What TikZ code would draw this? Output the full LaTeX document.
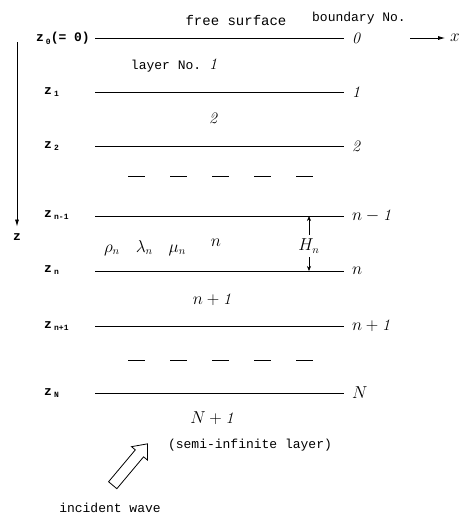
\documentclass[tikz,border=0pt]{standalone}
\usepackage{fontspec}
\setmonofont{Liberation Mono}
\usetikzlibrary{positioning,arrows.meta,shapes.arrows}

% small lowered index for the depth labels
\newcommand{\zsub}[1]{\,\raisebox{-0.4ex}{\fontsize{8}{9}\selectfont #1}}

\begin{document}
\begin{tikzpicture}[
	x=1pt, y=-1pt,
	bound/.style={
		line width=1pt
	},
	zlab/.style={
		font=\ttfamily\bfseries\fontsize{13}{15}\selectfont,
		anchor=west,
		inner sep=0pt
	},
	bnum/.style={
		font=\fontsize{16}{18}\selectfont,
		anchor=west,
		inner sep=0pt,
		outer xsep=8pt
	},
	lnum/.style={
		font=\fontsize{16}{18}\selectfont,
		inner sep=0pt
	},
	note/.style={
		font=\ttfamily\fontsize{13}{15}\selectfont,
		inner sep=0pt
	},
	axis/.style={
		-{Latex[length=7pt,width=4pt]},
		line width=0.8pt
	},
	harrow/.style={
		-{Stealth[length=5pt,width=4pt]},
		line width=0.6pt
	},
	hollow/.style={
		draw,
		single arrow,
		line width=0.8pt,
		minimum height=54pt,
		inner sep=5pt,
		single arrow head extend=5pt,
		single arrow tip angle=80
	}
	]
	
	\useasboundingbox (0,0) rectangle (465,515);
	
	% heading
	\node[note, font=\ttfamily\fontsize{14}{16}\selectfont] (free) at (236,20) {free surface};
	\node[note] (bno) at (359,18) {boundary No.};
	
	% boundaries
	\coordinate (s0) at (95,38);
	\node[bnum] (b0) at (344,38) {$\mathit{0}$};
	\node[zlab, anchor=east] (z0) at (90,38) {z\zsub{0}(= 0)};
	
	\coordinate (s1) at (95,92);
	\node[bnum] (b1) at (344,92) {$\mathit{1}$};
	\node[zlab] (z1) at (44,92) {z\zsub{1}};
	
	\coordinate (s2) at (95,146);
	\node[bnum] (b2) at (344,146) {$\mathit{2}$};
	\node[zlab] (z2) at (44,146) {z\zsub{2}};
	
	\coordinate (sn1) at (95,216);
	\node[bnum] (bn1) at (344,216) {$n-\mathit{1}$};
	\node[zlab] (zn1) at (44,215) {z\zsub{n-1}};
	
	\coordinate (sn) at (95,271);
	\node[bnum] (bn) at (344,271) {$n$};
	\node[zlab] (zn) at (44,270) {z\zsub{n}};
	
	\coordinate (snp) at (95,326);
	\node[bnum] (bnp) at (344,326) {$n+\mathit{1}$};
	\node[zlab] (znp) at (44,326) {z\zsub{n+1}};
	
	\coordinate (sN) at (95,393);
	\node[bnum] (bN) at (344,393) {$N$};
	\node[zlab] (zN) at (44,393) {z\zsub{N}};
	
	\draw[bound] (s0) -- (b0);
	\draw[bound] (s1) -- (b1);
	\draw[bound] (s2) -- (b2);
	\draw[bound] (sn1) -- (bn1);
	\draw[bound] (sn) -- (bn);
	\draw[bound] (snp) -- (bnp);
	\draw[bound] (sN) -- (bN);
	
	% omitted layers
	\draw[bound, dash pattern=on 17pt off 25pt] (128,176) -- (315,176);
	\draw[bound, dash pattern=on 17pt off 25pt] (128,360) -- (315,360);
	
	% layer numbers
	\node[note] (l1) at (174,66) {layer No. {\rmfamily\itshape\fontsize{16}{18}\selectfont 1}};
	\node[lnum] (l2) at (213,118) {$\mathit{2}$};
	\node[lnum] (ln) at (216,243) {$n$};
	\node[lnum] (lnp) at (212,300) {$n+\mathit{1}$};
	\node[lnum] (lN) at (212,418) {$N+\mathit{1}$};
	\node[note] (semi) at (250,445) {(semi-infinite layer)};
	\node[lnum] (par) at (145,248) {$\rho_n\quad\lambda_n\quad\mu_n$};
	
	% thickness of layer n
	\coordinate (ht) at (309,216);
	\coordinate (hb) at (309,271);
	\node[lnum, inner sep=4pt] (hn) at (309,246) {$H_n$};
	\draw[harrow] (hn) -- (ht);
	\draw[harrow] (hn) -- (hb);
	
	% axes
	\coordinate (zt) at (17,42);
	\node[note, font=\ttfamily\bfseries\fontsize{13}{15}\selectfont, outer sep=7pt] (zax) at (17,237) {z};
	\draw[axis] (zt) -- (zax);
	
	\coordinate (xt) at (410,38);
	\node[lnum, font=\fontsize{18}{20}\selectfont, outer sep=5pt] (xax) at (455,38) {$x$};
	\draw[axis] (xt) -- (xax);
	
	% incident wave
	\node[hollow, rotate=50] (inc) at (128,467) {};
	\node[note] (incl) at (110,508) {incident wave};
	
\end{tikzpicture}
\end{document}
